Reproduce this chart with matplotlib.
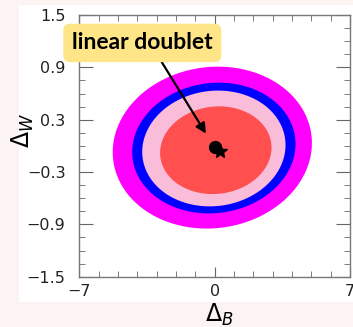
# -*- coding: utf-8 -*-
import numpy as np
import matplotlib
matplotlib.use('Agg')
import matplotlib.pyplot as plt
from matplotlib.patches import Rectangle

# 置信区域 (外 -> 内): 中心, x/y 半轴, 倾角(度)
region_names = ['outer', 'second', 'third', 'inner']
region_colors = ['#ff00ff', '#0000ff', '#f9bcd9', '#ff4f4f']
region_cx = [-0.12, -0.04, -0.04, 0.06]
region_cy = [-0.02, -0.025, -0.03, -0.05]
region_ax = [5.17, 4.24, 3.72, 2.89]
region_ay = [0.923, 0.745, 0.66, 0.50]
region_tilt = [9, 9, 9, 8]

# 最佳拟合点
dot_x, dot_y = [0.01], [-0.01]
star_x, star_y = [0.27], [-0.06]

label_text = 'linear doublet'
label_xy = (-0.45, 0.14)
label_text_xy = (-3.74, 1.18)

x_lim = (-7, 7)
y_lim = (-1.5, 1.5)
x_ticks = [-7, 0, 7]
y_ticks = [-1.5, -0.9, -0.3, 0.3, 0.9, 1.5]


def region_outline(cx, cy, ax_, ay_, tilt, hx, hy):
    # 在归一化坐标中旋转, 再换回数据坐标
    t = np.linspace(0, 2 * np.pi, 200)
    A, B = ax_ / hx, ay_ / hy
    th = np.deg2rad(tilt)
    u = A * np.cos(t) * np.cos(th) - B * np.sin(t) * np.sin(th)
    v = A * np.cos(t) * np.sin(th) + B * np.sin(t) * np.cos(th)
    return cx + u * hx, cy + v * hy


def main():
    fig = plt.figure(figsize=(3.53, 3.27), dpi=100, facecolor='#fcf4f2')
    fig.patches.append(Rectangle((0.054, 0.0765), 0.946, 0.908,
                                 transform=fig.transFigure, facecolor='white',
                                 edgecolor='none', zorder=-5))
    ax = fig.add_axes([0.2246, 0.1538, 0.7669, 0.8003])
    ax.set_zorder(1)

    hx = (x_lim[1] - x_lim[0]) / 2
    hy = (y_lim[1] - y_lim[0]) / 2
    for i in range(len(region_names)):
        xs, ys = region_outline(region_cx[i], region_cy[i], region_ax[i],
                                region_ay[i], region_tilt[i], hx, hy)
        ax.fill(xs, ys, color=region_colors[i], lw=0, zorder=1 + i)

    ax.plot(dot_x, dot_y, 'o', color='black', ms=8.5, zorder=10)
    ax.plot(star_x, star_y, '*', color='black', ms=10, zorder=10)

    ax.annotate(label_text, xy=label_xy, xytext=label_text_xy,
                textcoords='data', ha='center', va='center',
                fontsize=16.5, fontweight='bold', family='Lato',
                bbox=dict(boxstyle='round,pad=0.38,rounding_size=0.3',
                          fc='#fde588', ec='none'),
                arrowprops=dict(arrowstyle='-|>', color='black', lw=1.6,
                                mutation_scale=15, shrinkA=0, shrinkB=0,
                                relpos=(0.6, 0.0)),
                annotation_clip=False, zorder=20)

    ax.set_xlim(*x_lim)
    ax.set_ylim(*y_lim)
    ax.set_xticks(x_ticks)
    ax.set_xticklabels(['\u22127', '0', '7'])
    ax.set_yticks(y_ticks)
    ax.set_yticklabels([f'{v:.1f}'.replace('-', '\u2212') for v in y_ticks])
    ax.set_xticks(np.arange(-7, 8, 1), minor=True)
    ax.set_yticks(np.arange(-1.5, 1.51, 0.15), minor=True)
    ax.tick_params(which='both', direction='in', top=True, right=True,
                   colors='#666666', labelcolor='#222222', labelsize=11.5)
    ax.tick_params(axis='x', which='major', length=7, pad=5)
    ax.tick_params(axis='y', which='major', length=10, pad=10)
    ax.tick_params(which='minor', length=4)
    for s in ax.spines.values():
        s.set_color('#777777')
        s.set_linewidth(1.0)

    ax.set_xlabel(r'$\Delta_B$', fontsize=17)
    ax.set_ylabel(r'$\Delta_W$', fontsize=17)
    ax.xaxis.set_label_coords(0.519, -0.094)
    ax.yaxis.set_label_coords(-0.16, 0.56)

    fig.savefig('out.png', dpi=100, facecolor=fig.get_facecolor())
    return


if __name__ == '__main__':
    main()
